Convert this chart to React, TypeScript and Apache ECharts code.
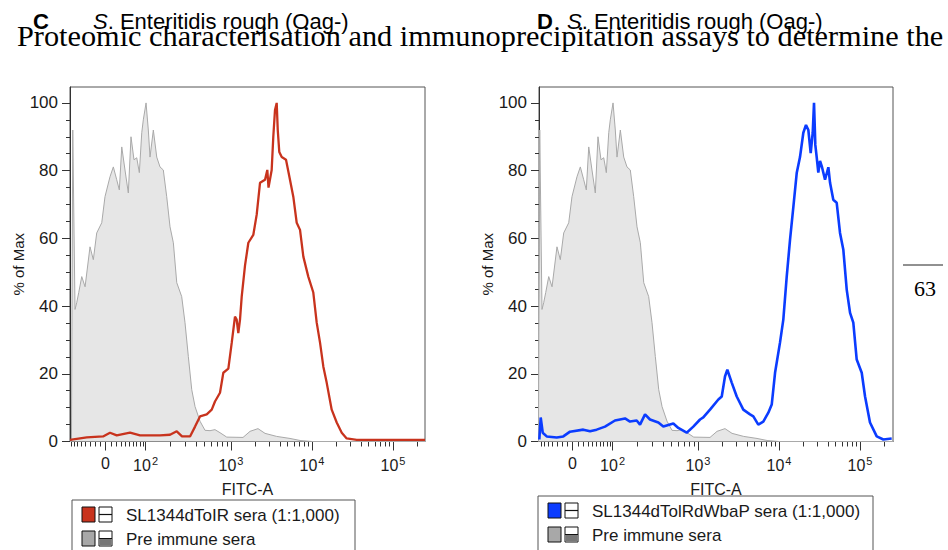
import { useEffect, useRef } from 'react';
import * as echarts from 'echarts';

// Histogram data: [display channel (decades on the logicle FITC-A axis), % of Max]
const preImmuneSera: [number, number][] = [
  [1.012, 0], [1.03, 0], [1.046, 92], [1.074, 39], [1.095, 41], [1.12, 44], [1.157, 48.7], [1.198, 45.7],
  [1.259, 57.5], [1.3, 53.7], [1.342, 61.6], [1.404, 64.6], [1.444, 72.3], [1.506, 78.2], [1.547, 81.1],
  [1.589, 77.3], [1.621, 74.3], [1.651, 87], [1.691, 80.2], [1.732, 73.4], [1.765, 90], [1.802, 83.2],
  [1.836, 83.8], [1.868, 79.4], [1.898, 91.2], [1.917, 95], [1.951, 100], [1.979, 92], [2.0, 84],
  [2.041, 92], [2.083, 84], [2.123, 81.1], [2.164, 80.2], [2.206, 72.3], [2.247, 63.4], [2.288, 58.7],
  [2.33, 46.9], [2.391, 42.8], [2.432, 35.1], [2.473, 25.1], [2.515, 15.3], [2.556, 10.3], [2.617, 6.0],
  [2.679, 3.3], [2.741, 3.2], [2.802, 3.5], [2.864, 2.6], [2.947, 1.3], [3.148, 1.2], [3.235, 3.0],
  [3.333, 3.8], [3.42, 2.4], [3.564, 1.5], [3.728, 0.9], [3.852, 0.3], [4.0, 0], [5.41, 0],
];

const tolRSera: [number, number][] = [
  [1.012, 0.5], [1.219, 1.2], [1.42, 1.5], [1.506, 2.6], [1.589, 1.8], [1.753, 2.6], [1.877, 1.8],
  [2.123, 1.8], [2.247, 2.0], [2.33, 3.0], [2.395, 1.5], [2.494, 1.5], [2.556, 4.4], [2.617, 7.4],
  [2.7, 8.0], [2.762, 9.4], [2.802, 11.8], [2.864, 14.4], [2.905, 20.3], [2.967, 21.5], [3.009, 29.2],
  [3.049, 36.9], [3.07, 36], [3.09, 32], [3.111, 36], [3.132, 42.8], [3.173, 52], [3.214, 58.7],
  [3.275, 61], [3.317, 67], [3.358, 76.4], [3.42, 77.3], [3.448, 80.2], [3.463, 75], [3.502, 80.2],
  [3.522, 90], [3.543, 97.9], [3.564, 100], [3.577, 92], [3.596, 85.5], [3.626, 84], [3.679, 83.2],
  [3.728, 77.3], [3.769, 72.3], [3.811, 64.6], [3.852, 62.5], [3.893, 54.6], [3.954, 48.7], [4.016, 44],
  [4.058, 35.1], [4.099, 29.2], [4.14, 22.1], [4.181, 17.4], [4.243, 9.4], [4.305, 5.6], [4.367, 2.6],
  [4.428, 0.9], [4.552, 0.5], [5.395, 0.5],
];

const tolRWbaPSera: [number, number][] = [
  [1.041, 0.6], [1.058, 7.1], [1.083, 2.6], [1.132, 1.5], [1.256, 1.2], [1.337, 1.5], [1.42, 2.9],
  [1.584, 3.5], [1.667, 3], [1.749, 3.5], [1.852, 4.4], [1.975, 6.2], [2.099, 6.8], [2.16, 5.9],
  [2.243, 6.2], [2.284, 5], [2.346, 8], [2.407, 6.5], [2.51, 5.6], [2.572, 4.4], [2.695, 5.3],
  [2.757, 4], [2.86, 2.6], [2.942, 4.4], [3.025, 6.5], [3.065, 7.1], [3.148, 9.4], [3.251, 12.4],
  [3.293, 13.3], [3.333, 19.2], [3.362, 21.2], [3.416, 17.4], [3.478, 13.3], [3.559, 9.4], [3.642, 8],
  [3.683, 7.4], [3.744, 5], [3.806, 5.9], [3.868, 8.5], [3.91, 10.9], [3.951, 20.3], [4.012, 29.2],
  [4.053, 36], [4.095, 48.7], [4.136, 59.6], [4.177, 69.3], [4.219, 79.4], [4.259, 84], [4.3, 91.2],
  [4.333, 93.5], [4.362, 92], [4.391, 85.2], [4.416, 91.2], [4.432, 100], [4.448, 87.6], [4.465, 84],
  [4.485, 79.4], [4.506, 82.9], [4.531, 81], [4.568, 77.3], [4.609, 81], [4.63, 76.4], [4.67, 71.4],
  [4.712, 70.5], [4.753, 61.6], [4.794, 56.6], [4.836, 44.8], [4.877, 38], [4.917, 35.1], [4.959, 24.2],
  [5.021, 20.3], [5.062, 13.3], [5.123, 5.6], [5.206, 1.5], [5.288, 0.6], [5.391, 0.9],
];

// Axis ticks
const yMajorTicks = [0, 20, 40, 60, 80, 100];
const yMinorTicks = [5, 10, 15, 25, 30, 35, 45, 50, 55, 65, 70, 75, 85, 90, 95];
const xMajorTicks: { value: number; base: string; exp: string }[] = [
  { value: 0, base: '0', exp: '' },
  { value: 100, base: '10', exp: '2' },
  { value: 1000, base: '10', exp: '3' },
  { value: 10000, base: '10', exp: '4' },
  { value: 100000, base: '10', exp: '5' },
];
const xMinorTicks = [
  -80, -70, -60, -50, -40, -30, -20, -10, 10, 20, 30, 40, 50, 60, 70, 80, 90,
  200, 300, 400, 500, 600, 700, 800, 900, 2000, 3000, 4000, 5000, 6000, 7000, 8000, 9000,
  20000, 30000, 40000, 50000, 60000, 70000, 80000, 90000, 200000,
];
// FITC-A value -> display channel
const axisAnchors: [number, number][] = [[0, 1.45], [100, 1.945], [1000, 3], [10000, 4], [100000, 5]];

const W = 28;
const g = (v: number) => Math.asinh(v / (2 * W)) / Math.LN10;
function toDisplay(v: number): number {
  let i = 0;
  while (i < axisAnchors.length - 2 && v > axisAnchors[i + 1][0]) i++;
  const [v0, u0] = axisAnchors[i];
  const [v1, u1] = axisAnchors[i + 1];
  return u0 + ((g(v) - g(v0)) / (g(v1) - g(v0))) * (u1 - u0);
}

const FONT = '"Liberation Sans", Arial, Helvetica, sans-serif';
const SERIF = '"Liberation Serif", "Times New Roman", serif';
const TXT = '#1a1a1a';

const panels = [
  {
    letter: 'C', left: 70, width: 355, xMin: 1.012, xMax: 5.395, line: tolRSera, color: '#c8331d', lineW: 2.3,
    name: 'SL1344dToIR sera (1:1,000)', legendX: 72, legendY: 500, legendW: 283, letterX: 33, titleX: 93,
  },
  {
    letter: 'D', left: 539, width: 354, xMin: 1.037, xMax: 5.407, line: tolRWbaPSera, color: '#0b3cff', lineW: 2.6,
    name: 'SL1344dTolRdWbaP sera (1:1,000)', legendX: 538, legendY: 496, legendW: 335, letterX: 537, titleX: 567,
  },
];

const GRID_TOP = 87;
const GRID_H = 354.5;
const Y_MAX = 104.7;

function buildOption() {
  const majorU = xMajorTicks.map((t) => toDisplay(t.value));
  const minorU = xMinorTicks.map((v) => toDisplay(v));
  const labelFor = (val: number) => {
    const idx = majorU.findIndex((u) => Math.abs(u - val) < 1e-6);
    if (idx < 0) return '';
    const t = xMajorTicks[idx];
    return t.exp ? `{b|${t.base}}{s|${t.exp}}` : `{b|${t.base}}`;
  };

  const grid: any[] = [];
  const xAxis: any[] = [];
  const yAxis: any[] = [];
  const series: any[] = [];
  const graphic: any[] = [];

  panels.forEach((p, i) => {
    grid.push({
      left: p.left, top: GRID_TOP, width: p.width, height: GRID_H,
      show: true, borderColor: '#555', borderWidth: 1, backgroundColor: '#fff',
    });
    const base = {
      type: 'value', gridIndex: i, min: p.xMin, max: p.xMax, position: 'bottom',
      splitLine: { show: false },
    };
    xAxis.push({
      ...base,
      name: 'FITC-A', nameLocation: 'middle', nameGap: 40,
      nameTextStyle: { fontFamily: FONT, fontSize: 16, color: TXT },
      axisLine: { show: true, onZero: false, lineStyle: { color: '#333', width: 1 } },
      axisTick: { show: true, customValues: majorU, length: 9, lineStyle: { color: '#333' } },
      axisLabel: {
        show: true, customValues: majorU, margin: 14, formatter: (v: number) => labelFor(v),
        rich: {
          b: { fontFamily: FONT, fontSize: 16, color: TXT },
          s: { fontFamily: FONT, fontSize: 11, color: TXT, padding: [0, 0, 9, 1] },
        },
      },
    });
    xAxis.push({
      ...base,
      axisLine: { show: false },
      axisTick: { show: true, customValues: minorU, length: 5, lineStyle: { color: '#333' } },
      axisLabel: { show: false },
    });
    const ybase = { type: 'value', gridIndex: i, min: 0, max: Y_MAX, position: 'left', splitLine: { show: false } };
    yAxis.push({
      ...ybase,
      name: '% of Max', nameLocation: 'middle', nameGap: 42, nameRotate: 90,
      nameTextStyle: { fontFamily: FONT, fontSize: 15, color: TXT },
      axisLine: { show: true, onZero: false, lineStyle: { color: '#333', width: 1 } },
      axisTick: { show: true, customValues: yMajorTicks, length: 8, lineStyle: { color: '#333' } },
      axisLabel: { show: true, customValues: yMajorTicks, margin: 12, fontFamily: FONT, fontSize: 17, color: TXT },
    });
    yAxis.push({
      ...ybase,
      axisLine: { show: false },
      axisTick: { show: true, customValues: yMinorTicks, length: 4, lineStyle: { color: '#333' } },
      axisLabel: { show: false },
    });

    series.push({
      type: 'line', name: 'Pre immune sera', xAxisIndex: 2 * i, yAxisIndex: 2 * i,
      data: preImmuneSera, showSymbol: false, symbol: 'none',
      lineStyle: { color: '#a9a9a9', width: 1 },
      areaStyle: { color: '#e6e6e6', opacity: 1 },
      z: 2,
    });
    series.push({
      type: 'line', name: p.name, xAxisIndex: 2 * i, yAxisIndex: 2 * i,
      data: p.line, showSymbol: false, symbol: 'none',
      lineStyle: { color: p.color, width: p.lineW },
      z: 3,
    });

    // Panel titles
    graphic.push({
      type: 'text', left: p.letterX, top: 10, z: 10,
      style: { text: p.letter, font: `bold 22px ${FONT}`, fill: '#000' },
    });
    graphic.push({
      type: 'text', left: p.titleX, top: 10, z: 10,
      style: {
        text: '{i|S}{n|. Enteritidis rough (Oag-)}',
        rich: {
          i: { font: `italic 22px ${FONT}`, fill: '#000' },
          n: { font: `22px ${FONT}`, fill: '#000' },
        },
      },
    });

    // Legend
    const lx = p.legendX;
    const ly = p.legendY;
    graphic.push({
      type: 'rect', shape: { x: lx, y: ly, width: p.legendW, height: 70 },
      style: { fill: '#fff', stroke: '#555', lineWidth: 1 }, z: 5,
    });
    const rows = [
      { y: ly + 7, fill: p.color, text: p.name, dotted: false },
      { y: ly + 31, fill: '#a8a8a8', text: 'Pre immune sera', dotted: true },
    ];
    rows.forEach((r) => {
      graphic.push({
        type: 'rect', shape: { x: lx + 10, y: r.y, width: 13, height: 15 },
        style: { fill: r.fill, stroke: '#111', lineWidth: 1 }, z: 6,
      });
      graphic.push({
        type: 'rect', shape: { x: lx + 27, y: r.y, width: 13, height: 15 },
        style: { fill: '#fff', stroke: '#111', lineWidth: 1 }, z: 6,
      });
      if (r.dotted) {
        graphic.push({
          type: 'rect', shape: { x: lx + 27.5, y: r.y + 8, width: 12, height: 6.5 },
          style: { fill: '#777' }, z: 7,
        });
        graphic.push({
          type: 'line', shape: { x1: lx + 27, y1: r.y + 7.5, x2: lx + 40, y2: r.y + 7.5 },
          style: { stroke: '#111', lineWidth: 1 }, z: 7,
        });
      } else {
        graphic.push({
          type: 'line', shape: { x1: lx + 27, y1: r.y + 7.5, x2: lx + 40, y2: r.y + 7.5 },
          style: { stroke: '#111', lineWidth: 1.2 }, z: 7,
        });
      }
      graphic.push({
        type: 'text', x: lx + 54, y: r.y + 8, z: 7,
        style: { text: r.text, font: `17px ${FONT}`, fill: TXT, verticalAlign: 'middle' },
      });
    });
  });

  // Page text that shows through the figure
  graphic.push({
    type: 'text', x: 17, y: 36, z: 11,
    style: {
      text: 'Proteomic characterisation and immunoprecipitation assays to determine the',
      font: `30.3px ${SERIF}`, fill: '#000', verticalAlign: 'middle',
    },
  });
  graphic.push({
    type: 'line', shape: { x1: 903, y1: 265, x2: 943, y2: 265 },
    style: { stroke: '#222', lineWidth: 1 }, z: 11,
  });
  graphic.push({
    type: 'text', x: 914, y: 288, z: 11,
    style: { text: '63', font: `22px ${SERIF}`, fill: '#000', verticalAlign: 'middle' },
  });

  return { animation: false, backgroundColor: '#fff', grid, xAxis, yAxis, series, graphic };
}

export default function App() {
  const ref = useRef<HTMLDivElement>(null);
  useEffect(() => {
    if (!ref.current) return;
    const chart = echarts.init(ref.current, null, { renderer: 'svg' });
    chart.setOption(buildOption() as any);
    return () => chart.dispose();
  }, []);
  return (
    <div
      ref={ref}
      style={{ position: 'absolute', left: 0, top: 0, width: 948, height: 550, background: '#fff' }}
    />
  );
}
